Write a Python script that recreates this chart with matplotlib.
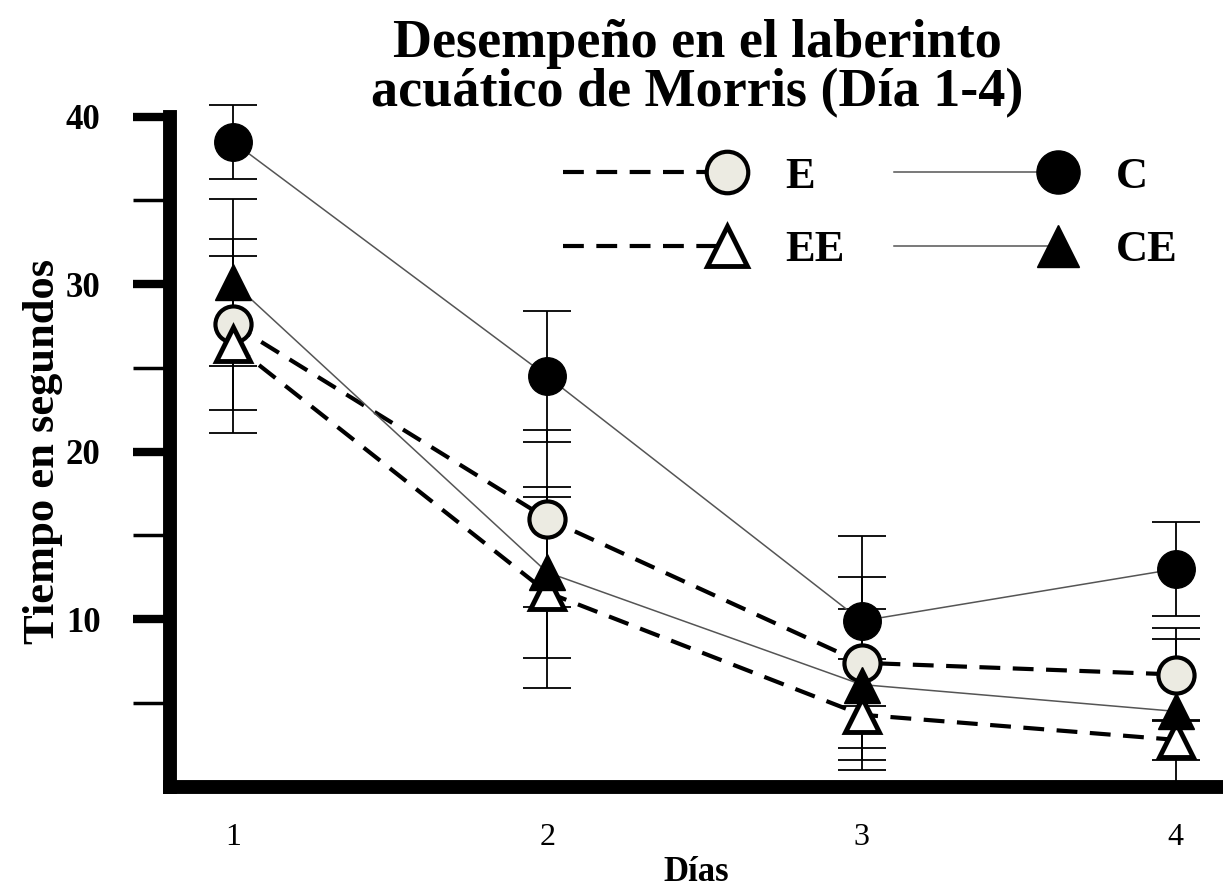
import matplotlib.pyplot as plt
import numpy as np
from matplotlib.legend_handler import HandlerLine2D
from matplotlib.ticker import FixedLocator

plt.rcParams['font.family'] = ['Liberation Serif', 'DejaVu Serif']

dias = [1, 2, 3, 4]
c_media = [38.5, 24.5, 9.9, 13.0]
c_err = [2.2, 3.9, 5.05, 2.8]
e_media = [27.6, 16.0, 7.4, 6.7]
e_err = [5.1, 5.3, 5.1, 2.8]
ce_media = [30.1, 12.8, 6.1, 4.5]
ce_err = [5.0, 5.1, 4.5, 4.3]
ee_media = [26.4, 11.6, 4.3, 2.8]
ee_err = [5.3, 5.7, 3.3, 1.2]


class MarcadorAlFinal(HandlerLine2D):
    # legend line with its marker at the right end instead of the middle
    def create_artists(self, legend, orig_handle, xdescent, ydescent,
                       width, height, fontsize, trans):
        arts = super().create_artists(legend, orig_handle, xdescent, ydescent,
                                      width, height, fontsize, trans)
        for a in arts:
            a.set_markevery([len(a.get_xdata()) - 1])
        return arts


fig = plt.figure(figsize=(12.23, 8.9), dpi=100)
ax = fig.add_axes([0.139, 0.116, 0.861, 0.753])

for media, err in [(c_media, c_err), (e_media, e_err),
                   (ce_media, ce_err), (ee_media, ee_err)]:
    ax.errorbar(dias, media, yerr=err, fmt='none', ecolor='black',
                elinewidth=1.3, capsize=17, capthick=1.3, zorder=2,
                clip_on=False)

ax.plot(dias, c_media, '-', color='#555555', lw=1.1, marker='o', ms=27,
        mfc='black', mec='black', label='C', zorder=4)
ax.plot(dias, ce_media, '-', color='#555555', lw=1.1, marker='^', ms=26,
        mfc='black', mec='black', label='CE', zorder=4)
ax.plot(dias, e_media, '--', color='black', lw=3, dashes=(5, 3), marker='o',
        ms=26, mfc='#ecebe2', mec='black', mew=3, label='E', zorder=3)
ax.plot(dias, ee_media, '--', color='black', lw=3, dashes=(5, 3), marker='^',
        ms=25, mfc='white', mec='black', mew=3.5, label='EE', zorder=3)

ax.set_xlim(0.8, 4.15)
ax.set_ylim(0, 40)
ax.set_xticks(dias)
ax.yaxis.set_major_locator(FixedLocator([10, 20, 30, 40]))
ax.yaxis.set_minor_locator(FixedLocator([5, 15, 25, 35]))
ax.tick_params(axis='x', length=0, labelsize=23, pad=26)
ax.tick_params(axis='y', which='major', length=27, width=6, labelsize=25,
               pad=23)
ax.tick_params(axis='y', which='minor', length=27, width=2.5)
for t in ax.get_yticklabels():
    t.set_fontweight('bold')

for s in ['top', 'right']:
    ax.spines[s].set_visible(False)
for s in ['left', 'bottom']:
    ax.spines[s].set_linewidth(10)

ax.set_xlabel('Días', fontsize=25, fontweight='bold', labelpad=3)
ax.set_ylabel('Tiempo en segundos', fontsize=32, fontweight='bold')
ax.yaxis.set_label_coords(-0.102, 0.5)

fig.text(0.57, 0.923, 'Desempeño en el laberinto\nacuático de Morris (Día 1-4)',
         fontsize=39, fontweight='bold', ha='center', va='center',
         linespacing=1.0)

h, l = ax.get_legend_handles_labels()
orden = [2, 3, 0, 1]
ax.legend([h[i] for i in orden], [l[i] for i in orden], ncol=2,
          loc='upper right', bbox_to_anchor=(0.995, 1.0), frameon=False,
          prop={'size': 32, 'weight': 'bold'}, handlelength=3.7,
          handletextpad=1.3, columnspacing=1.1, labelspacing=0.75,
          markerscale=1.15,
          handler_map={ln: MarcadorAlFinal() for ln in h})

fig.savefig('out.png', dpi=100)
